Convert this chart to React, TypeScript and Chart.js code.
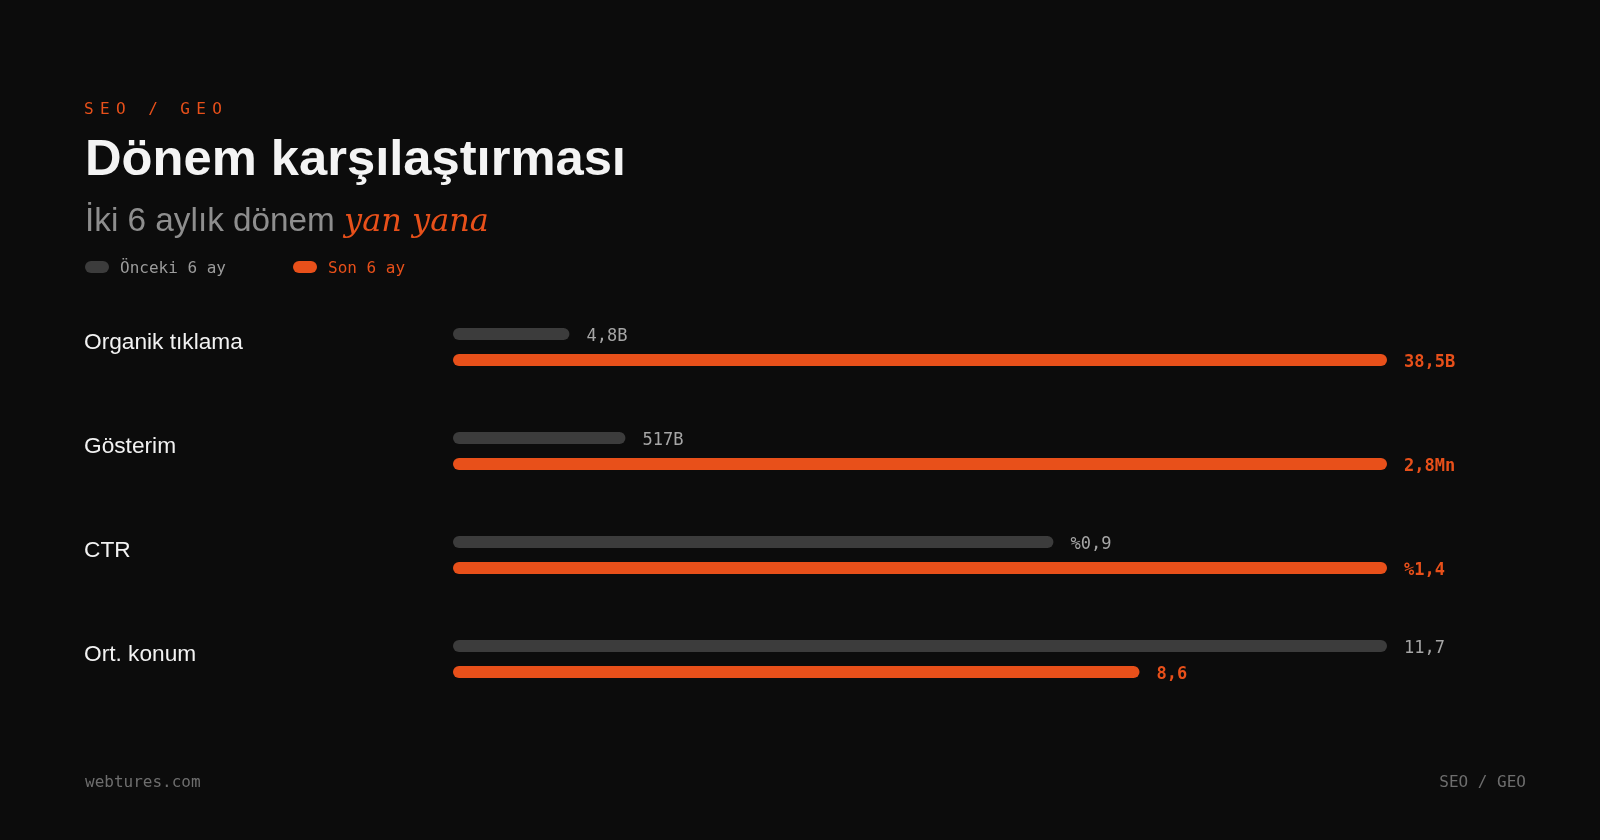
import React, { useEffect, useRef } from 'react';
import { Chart, registerables } from 'chart.js';

Chart.register(...registerables);

// ---- data ----
const categories = ['Organik tıklama', 'Gösterim', 'CTR', 'Ort. konum'];
const seriesNames = ['Önceki 6 ay', 'Son 6 ay'];
// counts in thousands (B = bin), CTR in %, position as is
const previousValues = [4.8, 517, 0.9, 11.7];
const currentValues = [38.5, 2800, 1.4, 8.6];
const previousLabels = ['4,8B', '517B', '%0,9', '11,7'];
const currentLabels = ['38,5B', '2,8Mn', '%1,4', '8,6'];

// ---- style ----
const BG = '#0c0c0c';
const ORANGE = '#e8501a';
const GREY_BAR = '#3c3c3c';
const SANS = '"Liberation Sans", Arial, Helvetica, sans-serif';
const MONO = '"DejaVu Sans Mono", monospace';
const SERIF = '"DejaVu Serif", serif';

const rowMax = previousValues.map((v, i) => Math.max(v, currentValues[i]));
const previousShare = previousValues.map((v, i) => (v / rowMax[i]) * 100);
const currentShare = currentValues.map((v, i) => (v / rowMax[i]) * 100);

export default function App() {
  const ref = useRef<HTMLCanvasElement>(null);

  useEffect(() => {
    document.body.style.margin = '0';
    document.body.style.background = BG;
    const valueLabels = {
      id: 'valueLabels',
      afterDatasetsDraw(chart: any) {
        const ctx = chart.ctx;
        ctx.save();
        ctx.textBaseline = 'middle';
        ctx.textAlign = 'left';
        chart.data.datasets.forEach((ds: any, di: number) => {
          const meta = chart.getDatasetMeta(di);
          const texts = di === 0 ? previousLabels : currentLabels;
          ctx.font = (di === 0 ? '' : 'bold ') + '17px ' + MONO;
          ctx.fillStyle = di === 0 ? '#a6a6a6' : ORANGE;
          meta.data.forEach((bar: any, i: number) => {
            ctx.fillText(texts[i], bar.x + 17, bar.y + 2.5);
          });
        });
        ctx.restore();
      },
    };

    const chart = new Chart(ref.current as HTMLCanvasElement, {
      type: 'bar',
      data: {
        labels: categories,
        datasets: [
          {
            label: seriesNames[0],
            data: previousShare,
            backgroundColor: GREY_BAR,
            borderRadius: 6,
            borderSkipped: false,
            categoryPercentage: 0.5,
            barPercentage: 1,
            maxBarThickness: 12,
          },
          {
            label: seriesNames[1],
            data: currentShare,
            backgroundColor: ORANGE,
            borderRadius: 6,
            borderSkipped: false,
            categoryPercentage: 0.5,
            barPercentage: 1,
            maxBarThickness: 12,
          },
        ],
      },
      options: {
        indexAxis: 'y',
        animation: false,
        responsive: false,
        maintainAspectRatio: false,
        layout: { padding: { left: 84, right: 213, top: 295, bottom: 129 } },
        plugins: { legend: { display: false }, tooltip: { enabled: false } },
        scales: {
          x: { display: false, min: 0, max: 100 },
          y: {
            grid: { display: false },
            border: { display: false },
            ticks: {
              crossAlign: 'far',
              color: '#f2f2f2',
              font: { family: SANS, size: 22.7 },
              labelOffset: -4,
              padding: 0,
            },
            afterFit: (s: any) => {
              s.width = 453 - 84;
            },
          },
        },
      },
      plugins: [valueLabels],
    } as any);
    return () => chart.destroy();
  }, []);

  const abs = (o: any) => ({ position: 'absolute', ...o } as React.CSSProperties);

  return (
    <div style={{ position: 'fixed', left: 0, top: 0, width: 1600, height: 840, background: BG, overflow: 'hidden' }}>
      <canvas ref={ref} width={1600} height={840} style={abs({ left: 0, top: 0, width: 1600, height: 840 })} />
      <div style={abs({ left: 84, top: 101, font: '16px ' + MONO, lineHeight: '16px', letterSpacing: '6.4px', color: ORANGE, whiteSpace: 'nowrap' })}>
        SEO / GEO
      </div>
      <div style={abs({ left: 85, top: 132, font: 'bold 50.7px ' + SANS, lineHeight: '51px', color: '#f4f4f4', whiteSpace: 'nowrap' })}>
        Dönem karşılaştırması
      </div>
      <div style={abs({ left: 85, top: 201, font: '33.3px ' + SANS, lineHeight: '33px', color: '#8e8e8e', whiteSpace: 'nowrap' })}>
        İki 6 aylık dönem{' '}
        <span style={{ font: 'italic 32px ' + SERIF, color: ORANGE }}>yan yana</span>
      </div>
      <div style={abs({ left: 85, top: 261, width: 24, height: 12, borderRadius: 6, background: GREY_BAR })} />
      <div style={abs({ left: 120, top: 260, font: '16px ' + MONO, lineHeight: '16px', color: '#9c9c9c', whiteSpace: 'nowrap' })}>
        {seriesNames[0]}
      </div>
      <div style={abs({ left: 293, top: 261, width: 24, height: 12, borderRadius: 6, background: ORANGE })} />
      <div style={abs({ left: 328, top: 260, font: '16px ' + MONO, lineHeight: '16px', color: ORANGE, whiteSpace: 'nowrap' })}>
        {seriesNames[1]}
      </div>
      <div style={abs({ left: 85, top: 774, font: '16px ' + MONO, lineHeight: '16px', color: '#6e6e6e', whiteSpace: 'nowrap' })}>
        webtures.com
      </div>
      <div style={abs({ right: 74, top: 774, font: '16px ' + MONO, lineHeight: '16px', color: '#6e6e6e', whiteSpace: 'nowrap' })}>
        SEO / GEO
      </div>
    </div>
  );
}
